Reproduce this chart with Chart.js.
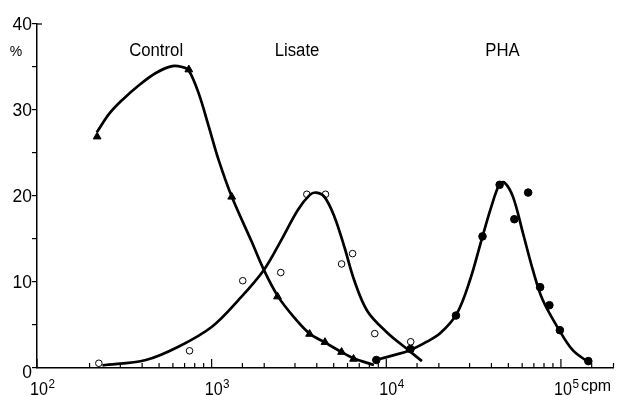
<!DOCTYPE html>
<html>
<head>
<meta charset="utf-8">
<script src="https://cdn.jsdelivr.net/npm/chart.js@4"></script>
<style>
  html, body { margin: 0; padding: 0; background: #fff; }
  #wrap { width: 619px; height: 395px; }
</style>
</head>
<body>
<div id="wrap"><canvas id="chart"></canvas></div>
<script>
// Measured points (cpm, %)
const controlX = [221, 740, 1303, 2382, 3638, 4457, 5546, 6494];
const controlY = [26.9, 34.7, 19.9, 8.3, 3.95, 3.0, 1.85, 1.05];

const lisateX = [226, 747, 1507, 2488, 3508, 4487, 5546, 6412, 8590, 13800];
const lisateY = [0.55, 2.0, 10.15, 11.1, 20.2, 20.2, 12.1, 13.3, 4.0, 3.05];

const phaX = [8770, 13750, 25060, 35560, 44570, 54100, 64930, 76000, 85900, 98600, 143500];
const phaY = [0.93, 2.2, 6.1, 15.3, 21.3, 17.3, 20.4, 9.4, 7.3, 4.4, 0.8];

// Hand-drawn fitted curves
const controlCurveX = [220, 260, 309, 385, 479, 595, 678, 740, 844, 962, 1096, 1305, 1694, 1992, 2403, 2990, 3638, 4426, 5500, 6551, 8500];
const controlCurveY = [27.4, 29.6, 31.2, 32.9, 34.3, 35.1, 35.0, 34.6, 31.9, 28.1, 24.2, 19.9, 14.7, 11.4, 8.3, 5.8, 4.0, 3.0, 1.9, 1.1, 0.35];

const lisateCurveX = [237, 420, 649, 1004, 1424, 1992, 2509, 3122, 3638, 3963, 4426, 5045, 5750, 6551, 7800, 10130, 13160, 16000];
const lisateCurveY = [0.3, 0.93, 2.5, 4.8, 7.9, 11.4, 14.9, 18.4, 20.1, 20.4, 19.9, 17.6, 14.1, 10.2, 6.6, 4.1, 2.2, 0.8];

const phaCurveX = [8690, 11060, 13460, 17100, 20340, 25320, 30130, 35120, 39990, 44600, 47640, 53170, 60590, 69070, 78700, 97840, 116500, 141800];
const phaCurveY = [0.93, 1.5, 2.0, 3.06, 4.03, 6.3, 10.2, 14.9, 18.8, 21.4, 21.55, 19.9, 15.7, 11.4, 7.9, 4.4, 2.1, 0.75];

const seriesNames = ['Control', 'Lisate', 'PHA'];
// where the names sit, in data units (cpm, %)
const nameAnchorX = [481, 3083, 46240];
const nameAnchorY = [36.9, 36.9, 36.9];

const xDecades = [2, 3, 4, 5];
const yLabels = [0, 10, 20, 30, 40];
const yMin = 0, yMax = 40;
const xMin = 100, xMax = 200000;

const FONT = '"Liberation Sans", Arial, sans-serif';

function pairs(xs, ys) {
    return xs.map((x, i) => ({ x: x, y: ys[i] }));
}

function curve(xs, ys) {
    return {
        data: pairs(xs, ys),
        showLine: true,
        borderColor: '#000',
        borderWidth: 2.7,
        pointRadius: 0,
        tension: 0.35,
        fill: false
    };
}

// draw text squeezed horizontally (the original uses a condensed face)
function squeezed(ctx, text, x, y, sx) {
    ctx.save();
    ctx.translate(x, y);
    ctx.scale(sx, 1);
    ctx.fillText(text, 0, 0);
    ctx.restore();
}

// Tick marks + labels on the axes and the text labels
const paperPlugin = {
    id: 'paper',
    afterDraw(chart) {
        const ctx = chart.ctx;
        const xs = chart.scales.x;
        const ys = chart.scales.y;
        const base = xs.top;
        ctx.save();
        ctx.strokeStyle = '#000';
        ctx.lineWidth = 1.2;
        xs.ticks.forEach(t => {
            const px = xs.getPixelForValue(t.value);
            const lg = Math.log10(t.value);
            const len = Math.abs(lg - Math.round(lg)) < 1e-6 ? 9 : 5;
            ctx.beginPath();
            ctx.moveTo(px, base);
            ctx.lineTo(px, base - len);
            ctx.stroke();
        });
        // little tick at top of y axis
        ctx.beginPath();
        ctx.moveTo(xs.left, ys.getPixelForValue(yMax));
        ctx.lineTo(xs.left + 5, ys.getPixelForValue(yMax));
        ctx.stroke();

        ctx.fillStyle = '#000';

        // y labels
        ctx.font = '19px ' + FONT;
        ctx.textAlign = 'right';
        ctx.textBaseline = 'middle';
        yLabels.forEach(v => {
            const py = ys.getPixelForValue(v) + (v === 0 ? 5 : 1);
            squeezed(ctx, String(v), 32, py, 0.92);
        });

        // x labels
        ctx.textBaseline = 'alphabetic';
        xDecades.forEach(e => {
            const px = xs.getPixelForValue(Math.pow(10, e));
            ctx.font = '19px ' + FONT;
            ctx.textAlign = 'center';
            squeezed(ctx, '10', px + 2, 395, 0.85);
            const w = ctx.measureText('10').width * 0.85;
            ctx.font = '13px ' + FONT;
            ctx.textAlign = 'left';
            squeezed(ctx, String(e), px + 2 + w / 2 + 0.5, 388, 0.9);
            if (e === 5) {
                ctx.font = '16px ' + FONT;
                ctx.fillText('cpm', px + 20, 391);
            }
        });

        // series names
        ctx.font = '18px ' + FONT;
        ctx.textAlign = 'center';
        ctx.textBaseline = 'middle';
        seriesNames.forEach((n, i) => {
            squeezed(ctx, n, xs.getPixelForValue(nameAnchorX[i]), ys.getPixelForValue(nameAnchorY[i]), 0.93);
        });
        ctx.font = '14px ' + FONT;
        ctx.fillText('%', 16, 52);
        ctx.restore();
    }
};

new Chart(document.getElementById('chart').getContext('2d'), {
    type: 'scatter',
    data: {
        datasets: [
            curve(controlCurveX, controlCurveY),
            curve(lisateCurveX, lisateCurveY),
            curve(phaCurveX, phaCurveY),
            {
                data: pairs(controlX, controlY),
                pointStyle: 'triangle',
                pointRadius: 4.5,
                backgroundColor: '#000',
                borderColor: '#000',
                borderWidth: 1
            },
            {
                data: pairs(lisateX, lisateY),
                pointStyle: 'circle',
                pointRadius: 3.3,
                backgroundColor: '#fff',
                borderColor: '#000',
                borderWidth: 1
            },
            {
                data: pairs(phaX, phaY),
                pointStyle: 'circle',
                pointRadius: 3.8,
                backgroundColor: '#000',
                borderColor: '#000',
                borderWidth: 1
            }
        ]
    },
    options: {
        responsive: true,
        maintainAspectRatio: false,
        animation: false,
        layout: { padding: { top: 24, right: 1, left: 0, bottom: 0 } },
        plugins: {
            legend: { display: false },
            tooltip: { enabled: false }
        },
        scales: {
            x: {
                type: 'logarithmic',
                min: xMin,
                max: xMax,
                ticks: { display: false },
                grid: { display: false },
                border: { display: true, color: '#000', width: 1.5 },
                afterFit: s => { s.height = 27; }
            },
            y: {
                min: yMin,
                max: yMax,
                ticks: { stepSize: 5, display: false },
                grid: { drawOnChartArea: false, tickLength: 5, color: '#000', lineWidth: 1.2 },
                border: { color: '#000', width: 1.5 },
                afterFit: s => { s.width = 37; }
            }
        }
    },
    plugins: [paperPlugin]
});
</script>
</body>
</html>
